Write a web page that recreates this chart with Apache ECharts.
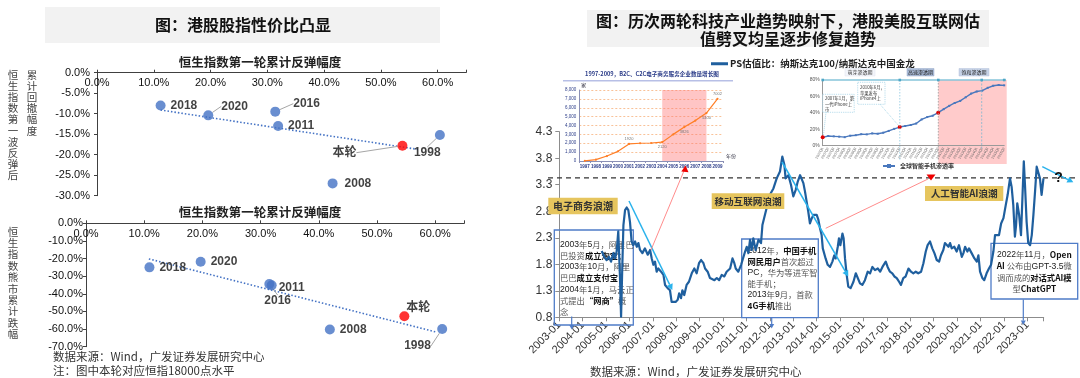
<!DOCTYPE html>
<html><head><meta charset="utf-8">
<script src="https://cdn.jsdelivr.net/npm/echarts@6/dist/echarts.min.js"></script>
<style>html,body{margin:0;padding:0;background:#fff}#c{width:1080px;height:378px}</style>
</head><body><div id="c"></div>
<script>
// ---------------- DATA ----------------
// Left top: rebound vs drawdown after first rebound
const roundNames1 = ['2018','2020','2016','2011','本轮','1998','2008'];
const rebound1   = [11.2, 19.6, 31.4, 31.9, 53.8, 60.4, 41.5];
const drawdown1  = [-8.0, -10.4, -9.5, -13.0, -17.8, -15.2, -27.0];
const trend1X = [11.2, 56.5];
const trend1Y = [-9.1, -18.7];
// Left bottom: rebound vs bear market fall
const roundNames2 = ['2018','2020','2011','2016','本轮','2008','1998'];
const rebound2   = [10.9, 19.7, 31.9, 31.5, 54.7, 41.9, 61.2];
const bearFall2  = [-25.0, -21.8, -35.2, -34.5, -52.7, -60.2, -60.0];
const trend2X = [10.8, 60.3];
const trend2Y = [-20.2, -61.8];
const leftXTicks = [0,10,20,30,40,50,60];

// Right main: PS ratio Nasdaq100 / Nasdaq Golden Dragon (decimal years)
const psYears = [2004.81,2004.92,2005.02,2005.12,2005.21,2005.31,2005.38,2005.45,2005.52,2005.59,2005.64,2005.69,2005.74,2005.81,2005.88,2005.95,
2006.02,2006.09,2006.16,2006.24,2006.31,2006.38,2006.45,2006.55,2006.66,2006.78,2006.88,2006.95,2007.02,2007.09,2007.16,2007.23,2007.35,2007.45,2007.52,2007.63,2007.73,2007.80,2007.87,2007.97,
2008.06,2008.12,2008.20,2008.26,2008.34,2008.44,2008.54,2008.66,2008.77,2008.87,2008.97,2009.06,2009.16,2009.23,2009.34,2009.44,2009.51,2009.63,2009.73,2009.83,2009.94,
2010.05,2010.15,2010.22,2010.30,2010.40,2010.48,2010.54,2010.65,2010.77,2010.87,2010.94,2011.01,2011.08,2011.15,2011.22,2011.29,2011.39,2011.51,2011.62,2011.68,2011.76,2011.86,2011.91,
2012.00,2012.15,2012.29,2012.43,2012.53,2012.62,2012.67,2012.79,2012.90,2013.00,2013.10,2013.19,2013.29,2013.33,2013.43,2013.50,2013.57,2013.64,2013.71,2013.79,2013.86,
2014.00,2014.07,2014.14,2014.21,2014.26,2014.33,2014.38,2014.47,2014.57,2014.67,2014.75,2014.81,2014.90,2014.95,2015.01,2015.10,2015.15,2015.21,2015.28,2015.35,2015.45,2015.57,2015.67,2015.75,2015.85,2015.95,
2016.06,2016.18,2016.28,2016.38,2016.49,2016.61,2016.71,2016.81,2016.95,2017.03,2017.13,2017.23,2017.32,2017.42,2017.52,2017.60,2017.70,2017.80,2017.92,
2018.03,2018.13,2018.23,2018.34,2018.46,2018.56,2018.66,2018.74,2018.84,2018.94,2019.03,2019.13,2019.23,2019.31,2019.41,2019.48,2019.55,2019.63,2019.70,2019.77,2019.88,2019.98,
2020.08,2020.20,2020.27,2020.34,2020.44,2020.51,2020.62,2020.74,2020.84,2020.91,2020.98,2021.08,2021.16,2021.26,2021.36,2021.45,2021.55,2021.62,2021.69,2021.79,2021.88,2021.98,
2022.08,2022.16,2022.26,2022.33,2022.40,2022.47,2022.52,2022.57,2022.65,2022.73,2022.79,2022.85,2022.90,2022.97,2023.04,2023.12,2023.19,2023.26,2023.33,2023.40,2023.47,2023.54,2023.61,2023.69];
const psValues = [2.05,1.94,1.88,1.94,1.85,2.01,1.91,2.04,2.42,1.60,0.81,1.72,2.54,2.82,2.87,2.82,
2.60,2.23,2.16,2.23,2.13,2.20,2.07,2.01,2.10,1.98,2.07,1.91,1.79,1.85,1.66,1.72,1.66,1.60,1.41,1.35,1.31,1.09,1.06,1.09,
1.13,1.25,1.16,1.31,1.22,1.41,1.47,1.63,1.72,1.63,1.82,1.88,1.82,1.72,1.66,1.54,1.57,1.50,1.54,1.50,1.60,
1.57,1.66,1.63,1.72,1.91,1.82,1.72,1.66,1.79,1.94,2.04,2.13,2.01,2.26,2.07,2.29,2.07,2.26,2.20,2.54,2.57,2.86,2.98,
3.11,3.23,3.42,3.55,3.83,3.67,3.42,3.48,3.30,3.08,3.20,3.36,3.48,3.50,3.33,3.17,2.98,2.79,2.57,2.67,2.73,
2.73,2.64,2.48,2.35,2.10,2.13,1.91,1.79,1.75,1.85,1.97,1.91,2.13,2.29,2.16,2.38,2.29,1.91,1.60,1.38,1.35,1.47,1.63,1.60,1.44,1.41,
1.50,1.66,1.63,1.75,1.69,1.72,1.66,1.75,1.85,1.75,1.66,1.63,1.57,1.54,1.47,1.41,1.54,1.57,1.72,
1.66,1.63,1.66,1.63,1.66,1.82,2.04,2.16,2.23,2.10,2.01,1.88,1.85,1.97,2.07,2.20,2.23,2.13,2.20,2.10,2.13,2.04,
2.16,1.94,2.01,2.13,2.04,2.10,2.01,1.91,1.85,1.97,1.66,1.54,1.50,1.63,1.72,1.79,2.04,2.35,2.38,2.35,2.57,2.67,
2.92,3.11,3.42,3.26,2.92,2.32,2.54,2.95,2.73,2.35,3.04,3.74,3.30,2.60,2.20,2.16,2.35,2.73,3.17,3.64,3.61,3.42,3.11,3.42];
const psLevel = 3.43;
const psName = 'PS估值比：纳斯达克100/纳斯达克中国金龙';

// Inset 1: e-commerce enterprises 1997-2009
const ecomYears = ['1997','1998','1999','2000','2001','2002','2003','2004','2005','2006','2007','2008','2009'];
const ecomCount = [20,150,560,1090,1920,2000,2030,2120,3000,3826,4550,5400,7002];
const ecomTitle = '1997-2009，B2C、C2C电子商务服务企业数量增长图';

// Inset 2: global smartphone penetration
const phoneQuarters = ['2007Q1','2007Q2','2007Q3','2007Q4','2008Q1','2008Q2','2008Q3','2008Q4','2009Q1','2009Q2','2009Q3','2009Q4',
'2010Q1','2010Q2','2010Q3','2010Q4','2011Q1','2011Q2','2011Q3','2011Q4','2012Q1','2012Q2','2012Q3','2012Q4','2013Q1','2013Q2',
'2013Q3','2013Q4','2014Q1','2014Q2','2014Q3','2014Q4','2015Q1','2015Q2'];
const phonePen = [10.2,11.8,11.4,11.0,10.4,12.2,12.8,14.0,13.8,15.0,14.6,15.8,18.0,20.5,22.7,24.0,25.2,27.0,32.0,34.9,36.5,40.2,
44.5,48.5,52.0,54.5,59.0,63.5,66.0,67.0,70.5,73.0,73.9,73.5];
const phoneName = '全球智能手机渗透率';

// ---------------- STYLE ----------------
const FONT = "'Liberation Sans','Noto Sans CJK SC',sans-serif";
const CJK = "'Noto Sans CJK SC','Liberation Sans',sans-serif";
const DOT = '#4472c4';

function txt(x, y, text, o) {
  o = o || {};
  const align = o.align || 'left', va = o.va || 'middle';
  return {type:'text', z: o.z == null ? 60 : o.z, x, y, silent:true,
    style:{text, fill:o.fill || '#222', fontSize:o.size || 12, fontWeight:o.weight || 'normal',
      fontFamily:o.family || CJK, align, verticalAlign:va, textAlign:align, textVerticalAlign:va,
      lineHeight:o.lh, rich:o.rich}};
}
function rect(x, y, w, h, fill, stroke, o) {
  o = o || {};
  return {type:'rect', z: o.z == null ? 55 : o.z, silent:true, shape:{x, y, width:w, height:h},
    style:{fill:fill || 'none', stroke:stroke || 'none', lineWidth:o.lw || 1, lineDash:o.dash}};
}
function seg(x1, y1, x2, y2, color, w, o) {
  o = o || {};
  return {type:'line', z: o.z == null ? 60 : o.z, silent:true, shape:{x1, y1, x2, y2},
    style:{stroke:color, lineWidth:w, lineDash:o.dash}};
}
function arrow(x1, y1, x2, y2, color, w, head) {
  const a = Math.atan2(y2 - y1, x2 - x1);
  const hx = x2 - head * Math.cos(a), hy = y2 - head * Math.sin(a);
  const px = Math.sin(a) * head * 0.55, py = -Math.cos(a) * head * 0.55;
  return [seg(x1, y1, hx, hy, color, w),
    {type:'polygon', z:60, silent:true, shape:{points:[[x2, y2], [hx + px, hy + py], [hx - px, hy - py]]}, style:{fill:color}}];
}

// ---------------- LEFT SCATTERS ----------------
const offsets1 = [[0,0],[3,-9],[8,-8],[0,0],[-80,7],[-36,18],[2,0]];
const leaders1 = [false,true,true,false,true,true,false];
const offsets2 = [[0,0],[0,0],[-3,2],[-15,17],[-8,-9],[0,0],[-48,17]];
const leaders2 = [false,false,false,true,false,false,true];

function scatterData(names, xs, ys, leaders) {
  return names.map((n, i) => ({
    name:n, value:[xs[i], ys[i]],
    itemStyle:{color: n === '本轮' ? '#ff0000' : DOT},
    labelLine:{show:leaders[i], lineStyle:{color:'#a6a6a6', width:1}}
  }));
}
function scatterSeries(idx, names, xs, ys, leaders, offs) {
  return {type:'scatter', xAxisIndex:idx, yAxisIndex:idx, symbolSize:10, z:5,
    data:scatterData(names, xs, ys, leaders),
    label:{show:true, position:'right', distance:5, formatter:'{b}', fontSize:12, fontWeight:'bold', color:'#111', fontFamily:FONT},
    labelLayout: p => ({dx:offs[p.dataIndex][0], dy:offs[p.dataIndex][1]})
  };
}
function trendSeries(idx, xs, ys) {
  return {type:'line', xAxisIndex:idx, yAxisIndex:idx, showSymbol:false, silent:true, z:4,
    data:xs.map((x, i) => [x, ys[i]]), lineStyle:{color:'#4472c4', width:1.6, type:[1.5, 2]}};
}
function leftX(idx) {
  return {type:'value', gridIndex:idx, position:'top', min:0, max:65, interval:10,
    axisLine:{lineStyle:{color:'#404040'}}, axisTick:{show:true, length:3, lineStyle:{color:'#404040'}},
    splitLine:{show:false},
    axisLabel:{inside:true, margin:5, fontSize:11, color:'#111', fontFamily:FONT,
      formatter: v => leftXTicks.indexOf(v) >= 0 ? v.toFixed(1) + '%' : ''}};
}
function leftY(idx, min, interval, margin) {
  return {type:'value', gridIndex:idx, min:min, max:0, interval:interval,
    axisLine:{show:true, lineStyle:{color:'#404040'}}, axisTick:{show:true, length:3, lineStyle:{color:'#404040'}},
    splitLine:{show:false},
    axisLabel:{margin:margin, fontSize:11, color:'#111', fontFamily:FONT, formatter: v => (v === 0 ? 0 : v).toFixed(1) + '%'}};
}

// ---------------- OPTION ----------------
const option = {
  animation:false,
  backgroundColor:'#ffffff',
  textStyle:{fontFamily:FONT},
  grid:[
    {left:97, top:72.7, width:369, height:123},
    {left:86, top:223.3, width:378.3, height:123.4},
    {left:559.3, top:131.7, width:484.4, height:185.6},
    {left:579.3, top:90, width:143.7, height:71},
    {left:822.7, top:80, width:181.5, height:65.7}
  ],
  xAxis:[
    leftX(0), leftX(1),
    {type:'value', gridIndex:2, min:2003, max:2023.7, interval:1,
      axisLine:{lineStyle:{color:'#8c8c8c'}}, axisTick:{show:true, length:4, lineStyle:{color:'#8c8c8c'}},
      splitLine:{show:false},
      axisLabel:{rotate:45, margin:6, fontSize:11, color:'#333', fontFamily:FONT,
        formatter: v => Number.isInteger(v) ? v + '-01' : ''}},
    {type:'category', gridIndex:3, data:ecomYears, name:'年份', nameLocation:'end', nameGap:3,
      nameTextStyle:{fontSize:5, color:'#334', fontFamily:CJK, verticalAlign:'bottom', padding:[0,0,2,0]},
      axisLine:{lineStyle:{color:'#8a8fb5'}}, axisTick:{show:true, length:2, lineStyle:{color:'#8a8fb5'}},
      axisLabel:{interval:0, fontSize:4.5, fontWeight:'bold', color:'#2b3c88', margin:4, fontFamily:FONT}},
    {type:'category', gridIndex:4, data:phoneQuarters, boundaryGap:false,
      axisLine:{lineStyle:{color:'#9a9a9a'}}, axisTick:{show:false},
      axisLabel:{interval:0, rotate:60, fontSize:3.6, color:'#666', margin:2, fontFamily:FONT}}
  ],
  yAxis:[
    leftY(0, -30, 5, 7), leftY(1, -70, 10, 3),
    {type:'value', gridIndex:2, min:0.8, max:4.3, interval:0.5,
      axisLine:{show:true, lineStyle:{color:'#8c8c8c'}}, axisTick:{show:true, length:4, lineStyle:{color:'#8c8c8c'}},
      splitLine:{show:false},
      axisLabel:{margin:7, fontSize:12, color:'#333', fontFamily:FONT, formatter: v => v.toFixed(1)}},
    {type:'value', gridIndex:3, min:0, max:8000, interval:1000, name:'家', nameGap:2,
      nameTextStyle:{fontSize:5, color:'#334', fontFamily:CJK, align:'left', padding:[0,0,0,2]},
      axisLine:{show:true, lineStyle:{color:'#8a8fb5'}}, axisTick:{show:false},
      splitLine:{show:true, lineStyle:{color:'#f7b27e', type:[2,2], width:0.8}},
      axisLabel:{fontSize:4.5, color:'#2b3c88', margin:3, fontFamily:FONT}},
    {type:'value', gridIndex:4, min:0, max:80, interval:20,
      axisLine:{show:true, lineStyle:{color:'#9a9a9a'}}, axisTick:{show:false},
      splitLine:{show:false},
      axisLabel:{fontSize:5, color:'#555', margin:3, fontFamily:FONT, formatter:'{value}%'}}
  ],
  legend:[
    {data:[psName], left:706, top:54, padding:5, icon:'rect', itemWidth:17, itemHeight:3, selectedMode:false,
      textStyle:{fontSize:9.5, fontWeight:'bold', color:'#222', fontFamily:CJK, padding:[0,0,0,-3]}},
    {data:[phoneName], left:879, top:160, padding:3, itemWidth:12, itemHeight:5, selectedMode:false,
      textStyle:{fontSize:6, fontWeight:'bold', color:'#333', fontFamily:CJK}}
  ],
  series:[
    scatterSeries(0, roundNames1, rebound1, drawdown1, leaders1, offsets1),
    trendSeries(0, trend1X, trend1Y),
    scatterSeries(1, roundNames2, rebound2, bearFall2, leaders2, offsets2),
    trendSeries(1, trend2X, trend2Y),
    {name:psName, type:'line', xAxisIndex:2, yAxisIndex:2, showSymbol:false, z:6,
      data:psYears.map((y, i) => [y, psValues[i]]),
      itemStyle:{color:'#1f5f9e'}, lineStyle:{color:'#1f5f9e', width:2.2, join:'round'}},
    {name:'ecom', type:'line', xAxisIndex:3, yAxisIndex:3, symbol:'circle', symbolSize:2.2, z:6,
      data:ecomCount.map((v, i) => {
        const lab = {4:'top', 7:'bottom', 9:'bottom', 11:'bottom', 12:'top'}[i];
        return lab ? {value:v, label:{show:true, position:lab, fontSize:4, color:'#777', distance:2}} : v;
      }),
      itemStyle:{color:'#ff7f27'}, lineStyle:{color:'#ff7f27', width:1.2},
      markArea:{silent:true, itemStyle:{color:'rgba(255,110,110,0.40)'},
        data:[[{xAxis:'2004', yAxis:0}, {xAxis:'2008', yAxis:8000}]]}},
    {name:phoneName, type:'line', xAxisIndex:4, yAxisIndex:4, symbol:'rect', symbolSize:2, z:6,
      data:phonePen.map((v, i) => (i === 0 || i === 14 || i === 21) ?
        {value:v, symbol:'circle', symbolSize:4, itemStyle:{color:'#e00000'}} : v),
      itemStyle:{color:'#4a78bd'}, lineStyle:{color:'#4a78bd', width:1.4}}
  ],
  graphic:{elements:[]}
};

const G = option.graphic.elements;
const push = a => Array.isArray(a) ? a.forEach(e => G.push(e)) : G.push(a);

// ---- left panel ----
push(rect(45, 7, 395, 36, '#f2f2f2', null, {z:1}));
push(txt(243, 25, '图：港股股指性价比凸显', {size:16, weight:'bold', align:'center', fill:'#111'}));
push(txt(260, 62, '恒生指数第一轮累计反弹幅度', {size:12.5, weight:'bold', align:'center', fill:'#222'}));
push(txt(260, 212.5, '恒生指数第一轮累计反弹幅度', {size:12.5, weight:'bold', align:'center', fill:'#222'}));
push(txt(13, 69, '恒生指数第一波反弹后'.split('').join('\n'), {size:10.5, lh:11.2, align:'center', va:'top', fill:'#444'}));
push(txt(32, 69, '累计回撤幅度'.split('').join('\n'), {size:10.5, lh:11.2, align:'center', va:'top', fill:'#444'}));
push(txt(13, 226, '恒生指数熊市累计跌幅'.split('').join('\n'), {size:10.5, lh:11.4, align:'center', va:'top', fill:'#444'}));
push(txt(53, 357, '数据来源：Wind，广发证券发展研究中心', {size:11.5, fill:'#333'}));
push(txt(53, 371, '注：图中本轮对应恒指18000点水平', {size:11.5, fill:'#333'}));

// ---- right panel title ----
push(rect(587, 10, 402, 37, '#f2f2f2', null, {z:1}));
push(txt(788, 20.5, '图：历次两轮科技产业趋势映射下，港股美股互联网估', {size:16, weight:'bold', align:'center', fill:'#111'}));
push(txt(788, 38.5, '值劈叉均呈逐步修复趋势', {size:16, weight:'bold', align:'center', fill:'#111'}));
push(txt(590, 371.5, '数据来源：Wind，广发证券发展研究中心', {size:11.5, fill:'#333'}));

// ---- inset 1 decorations ----
push(txt(652, 74.3, ecomTitle, {size:5.6, weight:'bold', align:'center', fill:'#2b3c88'}));
push(seg(563, 80.7, 733, 80.7, '#b7bfe6', 1.6));

// ---- inset 2 decorations ----
push(rect(938.3, 80, 68.4, 84, 'rgba(255,110,110,0.36)', null, {z:0}));
push(seg(822.7, 80, 1006, 80, '#86c5da', 1.4));
[822.7, 899.8, 938.3, 981.7, 1004.2].forEach(x => push(rect(x - 1.3, 78.7, 2.6, 2.6, '#4ea6c6', null, {z:61})));
push(seg(899.8, 80, 899.8, 160, '#8cc8e0', 0.8, {dash:[1.5,1.5]}));
push(seg(938.3, 80, 938.3, 160, '#9a9a9a', 0.8, {dash:[1.5,1.5]}));
push(seg(981.7, 80, 981.7, 150, '#7fb8d0', 0.8, {dash:[2,1.5]}));
push(rect(845, 68.5, 30, 7.5, '#f3f5fa', '#dde3ee', {lw:0.5}));
push(txt(860, 72.3, '萌芽渗透期', {size:5, align:'center', fill:'#333'}));
push(rect(907, 68.5, 27, 7.5, '#a9bad6', '#98aacb', {lw:0.5}));
push(txt(920.5, 72.3, '高速渗透期', {size:5, align:'center', fill:'#222'}));
push(rect(959, 68.5, 30, 7.5, '#c6d2e6', '#b5c3dc', {lw:0.5}));
push(txt(974, 72.3, '饱和渗透期', {size:5, align:'center', fill:'#222'}));
push(rect(822.7, 94.3, 31.5, 18, '#ffffff', '#8cc8e0', {lw:0.6, dash:[1.2,1], z:58}));
push(txt(825, 96, '2007年1月，第\n一代iPhone上\n市', {size:4.3, lh:5.3, va:'top', fill:'#333'}));
push(seg(826, 112.3, 823.5, 135, '#8cc8e0', 0.7, {dash:[1,1]}));
push(rect(857.7, 82.3, 27.3, 22, '#ffffff', '#8cc8e0', {lw:0.6, dash:[1.2,1], z:58}));
push(txt(860, 84.5, '2010年6月，\n苹果发布\niPhone4上', {size:4.3, lh:5.6, va:'top', fill:'#333'}));
push(seg(880, 104.3, 898.5, 125.5, '#8cc8e0', 0.7, {dash:[1,1]}));

// ---- main chart annotations ----
const YEL = '#e6c55e';
push(rect(548.3, 197.7, 69.4, 16.6, YEL, null, {z:58}));
push(txt(583, 206.2, '电子商务浪潮', {size:10, weight:'bold', align:'center', fill:'#333'}));
push(rect(711.7, 193.3, 72.6, 15.7, YEL, null, {z:58}));
push(txt(748, 201.3, '移动互联网浪潮', {size:9.6, weight:'bold', align:'center', fill:'#333'}));
push(rect(925, 186, 78.3, 15, YEL, null, {z:58}));
push(txt(964.2, 193.7, '人工智能AI浪潮', {size:9.6, weight:'bold', align:'center', fill:'#333'}));

const BOXC = '#4f7cc8';
const rich = {b:{fontWeight:'bold', fontSize:8.3, fill:'#111', fontFamily:CJK}, n:{fontSize:8.3, fill:'#555', fontFamily:CJK}, d:{fontSize:8.6, fill:'#222', fontFamily:FONT}};
push(rect(554.3, 230, 79, 95, null, BOXC, {lw:1.3, z:3}));
push(txt(560, 239, '{d|2003}{n|年}{d|5}{n|月，阿里巴}\n{n|巴投资}{b|成立淘宝}{n|；}\n{d|2003}{n|年}{d|10}{n|月，阿里}\n{n|巴巴}{b|成立支付宝}{n|；}\n{d|2004}{n|年}{d|1}{n|月，马云正}\n{n|式提出}{b|“网商”}{n|概}\n{n|念}',
  {size:8.3, lh:11.2, va:'top', rich:rich, z:3}));
push(rect(741.7, 239, 76.6, 78.7, null, BOXC, {lw:1.3, z:3}));
push(txt(747.5, 245.5, '{d|2012}{n|年，}{b|中国手机}\n{b|网民用户}{n|首次超过}\n{d|PC}{n|，华为等进军智}\n{n|能手机；}\n{d|2013}{n|年}{d|9}{n|月，首款}\n{b|4G手机}{n|推出}',
  {size:8.3, lh:11, va:'top', rich:rich, z:3}));
push(rect(991, 243.3, 86.7, 55.7, '#ffffff', BOXC, {lw:1.3, z:3}));
push(txt(1034.3, 249.5, '{d|2022}{n|年}{d|11}{n|月，}{b|Open}\n{b|AI} {n|公布由}{d|GPT-3.5}{n|微}\n{n|调而成的}{b|对话式AI模}\n{n|型}{b|ChatGPT}',
  {size:8.3, lh:11.2, align:'center', va:'top', rich:rich, z:3}));

push(arrow(571.7, 316.5, 571.7, 329.5, BOXC, 1.2, 4.5));
push(arrow(771.7, 317.7, 771.7, 328.5, BOXC, 1.2, 4.5));
push(arrow(1023.3, 299.5, 1023.3, 325, BOXC, 1.2, 4.5));

const LB = '#2bb3ec';
push(arrow(629, 201, 672.3, 290, LB, 1.5, 6));
push(arrow(782, 162, 848.3, 276.5, LB, 1.5, 6));
push(arrow(1042.3, 166.7, 1073.3, 182.3, LB, 1.5, 6));
push(txt(1058.5, 178, '?', {size:14, weight:'bold', align:'center', fill:'#111', family:FONT}));

const RD = '#ff8c8c';
push(seg(651, 250, 684.3, 170, RD, 1));
push({type:'polygon', z:60, silent:true, shape:{points:[[685.5,165.5],[681.3,171.5],[688.5,172.3]]}, style:{fill:'#ee0000'}});
push(seg(825.7, 228.3, 928, 179, RD, 1));
push({type:'polygon', z:61, silent:true, shape:{points:[[926.5,174.5],[935.5,174.5],[931,180.5]]}, style:{fill:'#ee0000'}});

const chart = echarts.init(document.getElementById('c'));
chart.setOption(option);
// dashed reference level on the main chart, extended slightly beyond the plot
const lvl = chart.convertToPixel({gridIndex:2}, [2003, psLevel]);
chart.setOption({graphic:{elements:[{type:'line', id:'lvl', z:4, silent:true,
  shape:{x1:548, y1:lvl[1], x2:1075, y2:lvl[1]}, style:{stroke:'#333', lineWidth:1.2, lineDash:[5,4]}}]}});
</script></body></html>
